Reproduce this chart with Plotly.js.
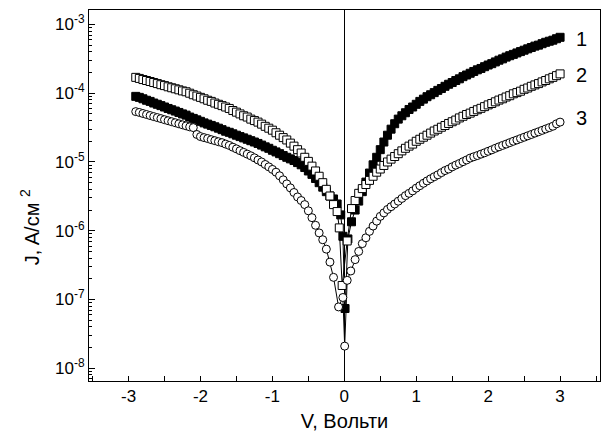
<!DOCTYPE html>
<html>
<head>
<meta charset="utf-8">
<script src="https://cdn.plot.ly/plotly-3.0.1.min.js"></script>
<style>html,body{margin:0;padding:0;background:#fff;}#chart{width:605px;height:444px;}</style>
</head>
<body>
<div id="chart"></div>
<script>
// Shared measurement voltages (V)
var voltsNeg = [-2.9,-2.85,-2.8,-2.75,-2.7,-2.65,-2.6,-2.55,-2.5,-2.45,-2.4,-2.35,-2.3,-2.25,-2.2,-2.15,-2.1,-2.05,-2.0,-1.95,-1.9,-1.85,-1.8,-1.75,-1.7,-1.65,-1.6,-1.55,-1.5,-1.45,-1.4,-1.35,-1.3,-1.25,-1.2,-1.15,-1.1,-1.05,-1.0,-0.95,-0.9,-0.85,-0.8,-0.75,-0.7,-0.65,-0.6,-0.55,-0.5,-0.45,-0.4,-0.35,-0.3,-0.25,-0.2,-0.15];
var voltsPos = [0.15,0.2,0.25,0.3,0.35,0.4,0.45,0.5,0.55,0.6,0.65,0.7,0.75,0.8,0.85,0.9,0.95,1.0,1.05,1.1,1.15,1.2,1.25,1.3,1.35,1.4,1.45,1.5,1.55,1.6,1.65,1.7,1.75,1.8,1.85,1.9,1.95,2.0,2.05,2.1,2.15,2.2,2.25,2.3,2.35,2.4,2.45,2.5,2.55,2.6,2.65,2.7,2.75,2.8,2.85,2.9,2.95,3.0];

// Curve 1 (filled squares), J in A/cm^2
var j1Neg = [9.0e-5,8.7e-5,8.3e-5,7.9e-5,7.6e-5,7.2e-5,6.9e-5,6.6e-5,6.3e-5,6.0e-5,5.75e-5,5.5e-5,5.25e-5,5.0e-5,4.8e-5,4.5e-5,4.3e-5,4.1e-5,3.9e-5,3.7e-5,3.55e-5,3.4e-5,3.25e-5,3.1e-5,2.95e-5,2.8e-5,2.7e-5,2.57e-5,2.45e-5,2.34e-5,2.24e-5,2.14e-5,2.04e-5,1.95e-5,1.86e-5,1.76e-5,1.66e-5,1.58e-5,1.48e-5,1.40e-5,1.32e-5,1.24e-5,1.17e-5,1.11e-5,1.05e-5,9.8e-6,9.1e-6,8.3e-6,7.4e-6,6.6e-6,5.75e-6,5.0e-6,4.3e-6,3.7e-6,3.2e-6,2.9e-6];
var v1Mid = [-0.1,-0.05,-0.02,0.01,0.05,0.1];
var j1Mid = [2.45e-6,1.7e-6,8.3e-7,7.4e-8,7.6e-7,1.35e-6];
var j1Pos = [2.0e-6,2.7e-6,3.7e-6,5.1e-6,6.9e-6,9.1e-6,1.17e-5,1.51e-5,1.95e-5,2.45e-5,3.0e-5,3.6e-5,4.2e-5,4.7e-5,5.2e-5,5.8e-5,6.3e-5,6.9e-5,7.6e-5,8.2e-5,8.9e-5,9.5e-5,1.02e-4,1.10e-4,1.17e-4,1.26e-4,1.35e-4,1.43e-4,1.53e-4,1.62e-4,1.74e-4,1.84e-4,1.95e-4,2.07e-4,2.19e-4,2.29e-4,2.43e-4,2.57e-4,2.69e-4,2.85e-4,3.02e-4,3.16e-4,3.35e-4,3.51e-4,3.67e-4,3.85e-4,4.03e-4,4.22e-4,4.42e-4,4.62e-4,4.84e-4,5.0e-4,5.25e-4,5.5e-4,5.7e-4,5.9e-4,6.2e-4,6.5e-4];

// Curve 2 (open squares)
var j2Neg = [1.70e-4,1.64e-4,1.58e-4,1.53e-4,1.48e-4,1.43e-4,1.38e-4,1.33e-4,1.29e-4,1.24e-4,1.20e-4,1.16e-4,1.12e-4,1.08e-4,1.05e-4,1.0e-4,9.5e-5,9.1e-5,8.7e-5,8.3e-5,7.9e-5,7.6e-5,7.2e-5,6.9e-5,6.6e-5,6.3e-5,6.0e-5,5.6e-5,5.3e-5,5.0e-5,4.7e-5,4.5e-5,4.2e-5,4.0e-5,3.8e-5,3.55e-5,3.3e-5,3.1e-5,2.9e-5,2.66e-5,2.45e-5,2.26e-5,2.09e-5,1.88e-5,1.70e-5,1.51e-5,1.35e-5,1.17e-5,1.02e-5,8.7e-6,7.4e-6,6.2e-6,5.0e-6,4.0e-6,3.2e-6,2.4e-6];
var v2Mid = [-0.1,-0.07,-0.03,0.04,0.1];
var j2Mid = [1.9e-6,1.1e-6,1.6e-7,7.1e-7,2.1e-6];
var j2Pos = [2.75e-6,3.5e-6,4.1e-6,4.7e-6,5.4e-6,6.2e-6,7.1e-6,7.9e-6,8.9e-6,1.0e-5,1.10e-5,1.20e-5,1.32e-5,1.45e-5,1.58e-5,1.70e-5,1.82e-5,2.0e-5,2.14e-5,2.29e-5,2.45e-5,2.63e-5,2.82e-5,2.99e-5,3.2e-5,3.39e-5,3.63e-5,3.85e-5,4.07e-5,4.37e-5,4.62e-5,4.9e-5,5.13e-5,5.43e-5,5.75e-5,6.03e-5,6.38e-5,6.76e-5,7.08e-5,7.5e-5,7.94e-5,8.3e-5,8.8e-5,9.2e-5,9.8e-5,1.02e-4,1.07e-4,1.14e-4,1.19e-4,1.26e-4,1.32e-4,1.38e-4,1.46e-4,1.53e-4,1.62e-4,1.70e-4,1.80e-4,1.91e-4];

// Curve 3 (open circles)
var j3Neg = [5.4e-5,5.25e-5,5.07e-5,4.9e-5,4.73e-5,4.57e-5,4.42e-5,4.27e-5,4.12e-5,3.98e-5,3.85e-5,3.72e-5,3.59e-5,3.47e-5,3.35e-5,3.24e-5,3.16e-5,2.51e-5,2.34e-5,2.26e-5,2.19e-5,2.11e-5,2.04e-5,1.97e-5,1.91e-5,1.82e-5,1.74e-5,1.64e-5,1.55e-5,1.46e-5,1.38e-5,1.30e-5,1.23e-5,1.15e-5,1.07e-5,1.0e-5,9.2e-6,8.5e-6,7.8e-6,7.1e-6,6.3e-6,5.5e-6,4.8e-6,4.2e-6,3.6e-6,3.1e-6,2.75e-6,2.4e-6,1.95e-6,1.55e-6,1.2e-6,9.3e-7,7.4e-7,5.4e-7,3.5e-7,2.1e-7];
var v3Mid = [-0.08,-0.02,0.005,0.04,0.09];
var j3Mid = [7.8e-8,1.07e-7,2.1e-8,1.9e-7,2.6e-7];
var j3Pos = [3.8e-7,5.0e-7,6.5e-7,7.9e-7,9.8e-7,1.17e-6,1.38e-6,1.62e-6,1.82e-6,2.04e-6,2.24e-6,2.45e-6,2.69e-6,2.95e-6,3.24e-6,3.5e-6,3.8e-6,4.17e-6,4.52e-6,4.9e-6,5.3e-6,5.7e-6,6.1e-6,6.5e-6,7.0e-6,7.5e-6,7.9e-6,8.5e-6,9.0e-6,9.5e-6,1.01e-5,1.07e-5,1.14e-5,1.19e-5,1.24e-5,1.30e-5,1.36e-5,1.43e-5,1.50e-5,1.58e-5,1.66e-5,1.74e-5,1.82e-5,1.91e-5,2.0e-5,2.09e-5,2.19e-5,2.29e-5,2.4e-5,2.51e-5,2.63e-5,2.75e-5,2.88e-5,3.02e-5,3.16e-5,3.31e-5,3.59e-5,3.8e-5];

var xTickVals = [-3,-2,-1,0,1,2,3];
var xTickText = ['-3','-2','-1','0','1','2','3'];
var xMinorVals = [-3.5,-2.5,-1.5,-0.5,0.5,1.5,2.5,3.5];
var yTickVals = [1e-8,1e-7,1e-6,1e-5,1e-4,1e-3];
var yTickText = ['10<sup>-8</sup>','10<sup>-7</sup>','10<sup>-6</sup>','10<sup>-5</sup>','10<sup>-4</sup>','10<sup>-3</sup>'];
var curveLabels = ['1','2','3'];

// minor tick positions for the log axis (2..9 within each decade)
var yMinor = [];
for (var e = -9; e <= -3; e++) { for (var m = 2; m <= 9; m++) { yMinor.push(m * Math.pow(10, e)); } }

function mk(xs, ys, sym, fill) {
  return {
    x: xs, y: ys, type: 'scatter', mode: 'lines+markers',
    line: {color: 'black', width: 1},
    marker: {symbol: sym, size: 8, color: fill, line: {color: 'black', width: 1}},
    showlegend: false, hoverinfo: 'skip'
  };
}

var traces = [
  mk(voltsNeg.concat(v1Mid, voltsPos), j1Neg.concat(j1Mid, j1Pos), 'square', 'black'),
  mk(voltsNeg.concat(v2Mid, voltsPos), j2Neg.concat(j2Mid, j2Pos), 'square', 'white'),
  mk(voltsNeg.concat(v3Mid, voltsPos), j3Neg.concat(j3Mid, j3Pos), 'circle', 'white')
];

var font = 'Liberation Sans, Arial, sans-serif';
var layout = {
  width: 605, height: 444,
  margin: {l: 89, r: 5, t: 10, b: 63},
  paper_bgcolor: 'white', plot_bgcolor: 'white',
  font: {family: font, color: 'black', size: 17},
  xaxis: {
    range: [-3.55, 3.555], tickmode: 'array', tickvals: xTickVals, ticktext: xTickText,
    ticks: 'inside', ticklen: 5, tickwidth: 1, tickcolor: 'black',
    minor: {tickmode: 'array', tickvals: xMinorVals, ticks: 'inside', ticklen: 5, tickwidth: 1, tickcolor: 'black'},
    showline: true, linecolor: 'black', linewidth: 1, mirror: true,
    showgrid: false, zeroline: true, zerolinecolor: 'black', zerolinewidth: 1,
    tickfont: {family: font, size: 17, color: 'black'},
    title: {text: 'V, Вольти', font: {family: font, size: 20, color: 'black'}, standoff: 8}
  },
  yaxis: {
    type: 'log', range: [-8.185, -2.79],
    tickmode: 'array', tickvals: yTickVals, ticktext: yTickText,
    ticks: 'inside', ticklen: 6, tickwidth: 1, tickcolor: 'black',
    minor: {tickmode: 'array', tickvals: yMinor, ticks: 'inside', ticklen: 3, tickwidth: 1, tickcolor: 'black'},
    showline: true, linecolor: 'black', linewidth: 1, mirror: true,
    showgrid: false, zeroline: false,
    tickfont: {family: font, size: 17, color: 'black'}
  },
  annotations: [
    {xref: 'paper', yref: 'paper', x: -0.117, y: 0.415, text: 'J, A/см <sup>2</sup>', textangle: -90,
     showarrow: false, font: {family: font, size: 20, color: 'black'}, xanchor: 'center', yanchor: 'middle'},
    {x: 3.3, y: -3.21, xref: 'x', yref: 'y', text: curveLabels[0], showarrow: false, font: {family: font, size: 20, color: 'black'}},
    {x: 3.3, y: -3.74, xref: 'x', yref: 'y', text: curveLabels[1], showarrow: false, font: {family: font, size: 20, color: 'black'}},
    {x: 3.3, y: -4.36, xref: 'x', yref: 'y', text: curveLabels[2], showarrow: false, font: {family: font, size: 20, color: 'black'}}
  ]
};

Plotly.newPlot('chart', traces, layout, {staticPlot: true, displayModeBar: false});
</script>
</body>
</html>
